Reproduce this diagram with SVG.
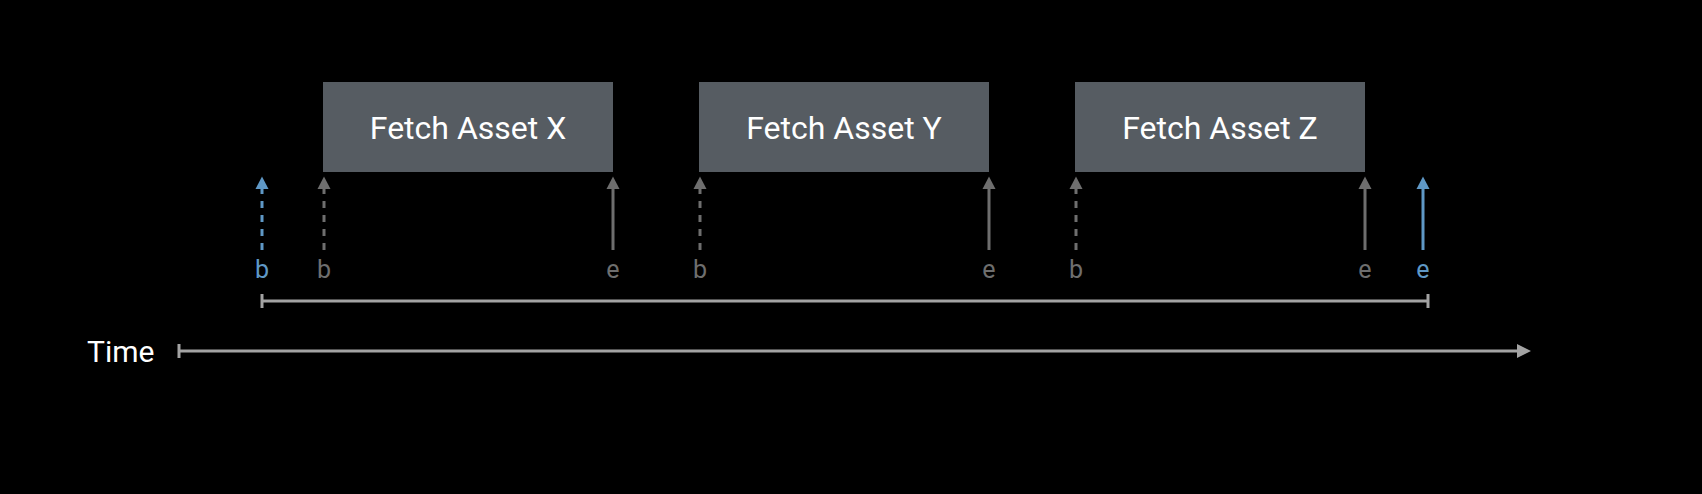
<svg xmlns="http://www.w3.org/2000/svg" width="1702" height="494" viewBox="0 0 1702 494">
<style>
.box{fill:#565c62}
.bt{font-family:Roboto,"Liberation Sans",sans-serif;font-size:32px;fill:#ffffff;text-anchor:middle}
.lbl{font-family:Roboto,"Liberation Sans",sans-serif;font-size:25px;text-anchor:middle}
.g{fill:#6e6e6e}
.b{fill:#5f98c6}
.ag{stroke:#6e6e6e;stroke-width:3;fill:none}
.ab{stroke:#5f98c6;stroke-width:3;fill:none}
.dash{stroke-dasharray:7 7}
.axis{stroke:#a3a3a3;stroke-width:3;fill:none}
</style>
<defs>
<marker id="hg" markerUnits="userSpaceOnUse" markerWidth="14" markerHeight="14" refX="7" refY="0" viewBox="0 0 14 14" orient="auto-start-reverse" overflow="visible"><path d="M0,13 L7,0 L14,13 Z" fill="#6e6e6e" transform="translate(0,0)"/></marker>
</defs>
<rect width="1702" height="494" fill="#000"/>
<g id="node-x"><rect class="box" x="323" y="82" width="290" height="90"/><text class="bt" x="468" y="139">Fetch Asset X</text></g>
<g id="node-y"><rect class="box" x="699" y="82" width="290" height="90"/><text class="bt" x="844" y="139">Fetch Asset Y</text></g>
<g id="node-z"><rect class="box" x="1075" y="82" width="290" height="90"/><text class="bt" x="1220" y="139">Fetch Asset Z</text></g>
<g id="connectors">
<line class="ab dash" x1="262" y1="250" x2="262" y2="189"/><path d="M255.5,189 L262,176.5 L268.5,189 Z" fill="#5f98c6"/>
<line class="ag dash" x1="324" y1="250" x2="324" y2="189"/><path d="M317.5,189 L324,176.5 L330.5,189 Z" fill="#6e6e6e"/>
<line class="ag" x1="613" y1="250" x2="613" y2="189"/><path d="M606.5,189 L613,176.5 L619.5,189 Z" fill="#6e6e6e"/>
<line class="ag dash" x1="700" y1="250" x2="700" y2="189"/><path d="M693.5,189 L700,176.5 L706.5,189 Z" fill="#6e6e6e"/>
<line class="ag" x1="989" y1="250" x2="989" y2="189"/><path d="M982.5,189 L989,176.5 L995.5,189 Z" fill="#6e6e6e"/>
<line class="ag dash" x1="1076" y1="250" x2="1076" y2="189"/><path d="M1069.5,189 L1076,176.5 L1082.5,189 Z" fill="#6e6e6e"/>
<line class="ag" x1="1365" y1="250" x2="1365" y2="189"/><path d="M1358.5,189 L1365,176.5 L1371.5,189 Z" fill="#6e6e6e"/>
<line class="ab" x1="1423" y1="250" x2="1423" y2="189"/><path d="M1416.5,189 L1423,176.5 L1429.5,189 Z" fill="#5f98c6"/>
<line class="axis" x1="262" y1="301" x2="1428" y2="301"/>
<line class="axis" x1="262" y1="294" x2="262" y2="308"/>
<line class="axis" x1="1428" y1="294" x2="1428" y2="308"/>
<line class="axis" x1="179" y1="351" x2="1518" y2="351"/>
<line class="axis" x1="179" y1="344" x2="179" y2="358"/>
<path d="M1517,344 L1531,351 L1517,358 Z" fill="#a3a3a3"/>
</g>
<g id="labels">
<text class="lbl b" x="262" y="278">b</text>
<text class="lbl g" x="324" y="278">b</text>
<text class="lbl g" x="613" y="278">e</text>
<text class="lbl g" x="700" y="278">b</text>
<text class="lbl g" x="989" y="278">e</text>
<text class="lbl g" x="1076" y="278">b</text>
<text class="lbl g" x="1365" y="278">e</text>
<text class="lbl b" x="1423" y="278">e</text>
<text x="87" y="362" style="font-family:Roboto,'Liberation Sans',sans-serif;font-size:30px;fill:#fff">Time</text>
</g>
</svg>
